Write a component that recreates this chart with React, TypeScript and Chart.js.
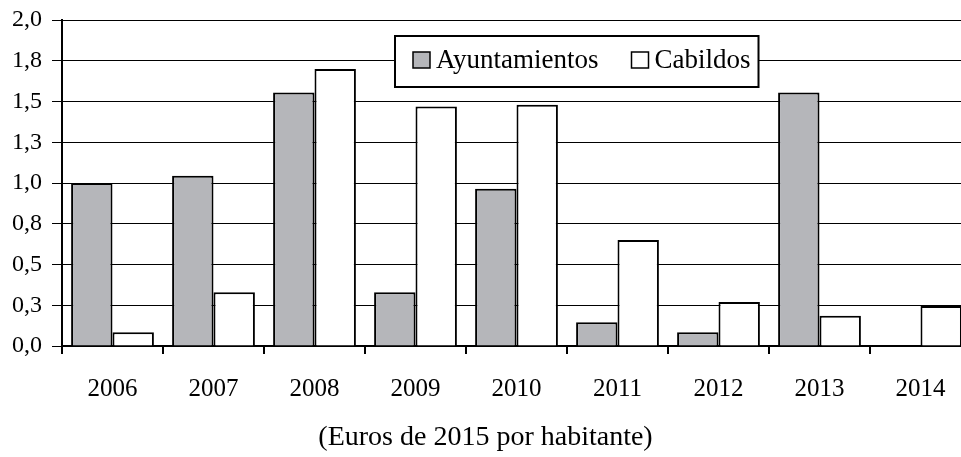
import React, { useEffect, useRef } from "react";
import { Chart, registerables } from "chart.js";

Chart.register(...registerables);

const categories = ["2006", "2007", "2008", "2009", "2010", "2011", "2012", "2013", "2014"];
const seriesNames = ["Ayuntamientos", "Cabildos"];
const ayuntamientos = [1.0, 1.045, 1.555, 0.33, 0.965, 0.145, 0.085, 1.555, 0];
const cabildos = [0.085, 0.33, 1.7, 1.47, 1.48, 0.65, 0.27, 0.185, 0.245];
const yTickValues = [0, 0.25, 0.5, 0.75, 1.0, 1.25, 1.5, 1.75, 2.0];
const yTickLabels = ["0,0", "0,3", "0,5", "0,8", "1,0", "1,3", "1,5", "1,8", "2,0"];
const bottomTitle = "(Euros de 2015 por habitante)";

const FONT = '"Liberation Serif", "Times New Roman", serif';
const GRAY = "#b5b6ba";

const legendBoxPlugin = {
  id: "legendBox",
  afterDraw(chart: any) {
    const ctx = chart.ctx;
    const a = chart.chartArea;
    ctx.save();
    ctx.font = `27px ${FONT}`;
    const left = a.left + 333;
    const top = a.top + 16;
    const height = 51;
    const padL = 18;
    const sq = 17;
    const gapSq = 6;
    const gapItem = 33;
    const padR = 8;
    const widths = chart.data.datasets.map((d: any) => ctx.measureText(d.label).width);
    let total = padL;
    widths.forEach((w: number, i: number) => {
      total += sq + gapSq + w + (i < widths.length - 1 ? gapItem : 0);
    });
    total += padR;
    ctx.fillStyle = "#fff";
    ctx.fillRect(left, top, total, height);
    ctx.strokeStyle = "#000";
    ctx.lineWidth = 2;
    ctx.strokeRect(left, top, total, height);
    let x = left + padL;
    chart.data.datasets.forEach((d: any, i: number) => {
      ctx.fillStyle = d.backgroundColor;
      ctx.fillRect(x, top + 16, sq, 16);
      ctx.lineWidth = 1.5;
      ctx.strokeStyle = "#000";
      ctx.strokeRect(x, top + 16, sq, 16);
      x += sq + gapSq;
      ctx.fillStyle = "#000";
      ctx.textBaseline = "alphabetic";
      ctx.textAlign = "left";
      ctx.fillText(d.label, x, top + 32);
      x += widths[i] + gapItem;
    });
    ctx.restore();
  },
};

export default function App() {
  const canvasRef = useRef<HTMLCanvasElement | null>(null);

  useEffect(() => {
    const canvas = canvasRef.current;
    if (!canvas) return;
    const chart = new Chart(canvas, {
      type: "bar",
      data: {
        labels: categories,
        datasets: [
          {
            label: seriesNames[0],
            data: ayuntamientos,
            backgroundColor: GRAY,
            borderColor: "#000",
            borderWidth: 2,
            categoryPercentage: 0.82,
            barPercentage: 1.0,
          },
          {
            label: seriesNames[1],
            data: cabildos,
            backgroundColor: "#ffffff",
            borderColor: "#000",
            borderWidth: 2,
            categoryPercentage: 0.82,
            barPercentage: 1.0,
          },
        ],
      },
      options: {
        responsive: false,
        animation: false,
        devicePixelRatio: 1,
        layout: { padding: { top: 20, right: 0, left: 0, bottom: 0 } },
        plugins: {
          legend: { display: false },
          tooltip: { enabled: false },
          title: {
            display: true,
            position: "bottom",
            text: bottomTitle,
            color: "#000",
            font: { family: FONT, size: 28, weight: "normal" },
            padding: { top: 0, bottom: 3 },
          },
        },
        scales: {
          x: {
            grid: {
              display: true,
              drawOnChartArea: false,
              drawTicks: true,
              tickLength: 8,
              color: "#000",
              lineWidth: 2,
              offset: true,
            },
            border: { display: true, color: "#000", width: 2 },
            ticks: {
              color: "#000",
              font: { family: FONT, size: 25 },
              padding: 20,
              maxRotation: 0,
            },
            afterFit(scale: any) {
              scale.height = 74.4;
            },
          },
          y: {
            min: 0,
            max: 2,
            afterBuildTicks(scale: any) {
              scale.ticks = yTickValues.map((v) => ({ value: v }));
            },
            grid: {
              color: "#000",
              lineWidth: 1,
              drawTicks: true,
              tickLength: 10,
            },
            border: { display: true, color: "#000", width: 2 },
            ticks: {
              color: "#000",
              font: { family: FONT, size: 24 },
              padding: 10,
              callback: (value: any) => {
                const i = yTickValues.indexOf(Number(value));
                return i >= 0 ? yTickLabels[i] : "";
              },
            },
            afterFit(scale: any) {
              scale.width = 62;
              scale.paddingTop = 0;
              scale.paddingBottom = 0;
            },
          },
        },
      },
      plugins: [legendBoxPlugin],
    } as any);
    return () => chart.destroy();
  }, []);

  return (
    <div
      style={{
        position: "fixed",
        left: 0,
        top: 0,
        width: 961,
        height: 457,
        overflow: "hidden",
        background: "#fff",
      }}
    >
      <canvas
        ref={canvasRef}
        width={971}
        height={457}
        style={{ width: 971, height: 457, display: "block" }}
      />
    </div>
  );
}
